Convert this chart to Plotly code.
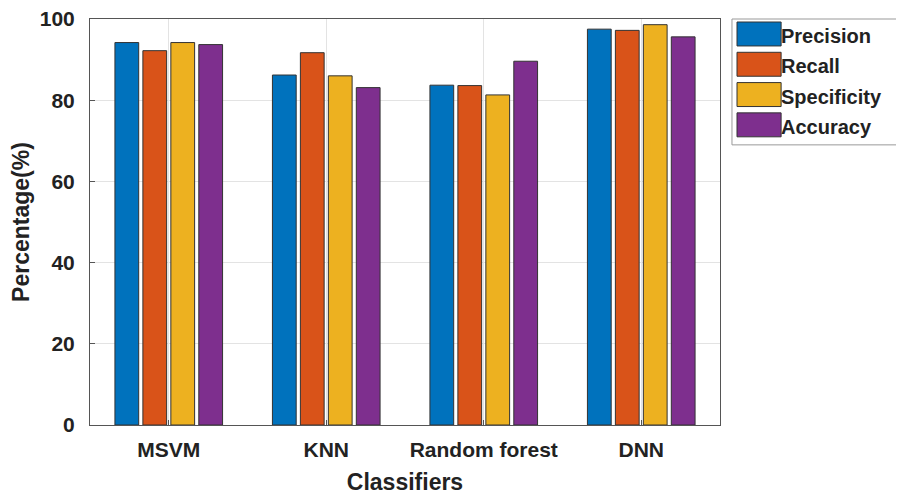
import plotly.graph_objects as go

categories = ["MSVM", "KNN", "Random forest", "DNN"]
series_names = ["Precision", "Recall", "Specificity", "Accuracy"]
precision = [94.2, 86.2, 83.7, 97.5]
recall = [92.2, 91.7, 83.6, 97.2]
specificity = [94.2, 86.0, 81.3, 98.6]
accuracy = [93.7, 83.1, 89.6, 95.6]
colors = ["#0072BD", "#D95319", "#EDB120", "#7E2F8E"]
y_ticks = [0, 20, 40, 60, 80, 100]

values = [precision, recall, specificity, accuracy]
font_family = "Liberation Sans, Arial, sans-serif"

fig = go.Figure()
for name, vals, col in zip(series_names, values, colors):
    fig.add_trace(go.Bar(
        x=categories, y=vals, name=name,
        marker=dict(color=col, line=dict(color="#333333", width=1)),
        showlegend=False,
    ))

# custom legend (large swatches like the reference)
legend_shapes = [dict(type="rect", xref="paper", yref="paper",
                      x0=1.019, x1=1.286, y0=0.69, y1=1.0,
                      line=dict(color="#999999", width=1), fillcolor="white")]
annotations = []
row_h = 0.0746
sw_h = 0.059
for i, (name, col) in enumerate(zip(series_names, colors)):
    ytop = 0.9926 - i * row_h
    legend_shapes.append(dict(type="rect", xref="paper", yref="paper",
                              x0=1.027, x1=1.097, y0=ytop - sw_h, y1=ytop,
                              line=dict(color="#333333", width=1), fillcolor=col))
    annotations.append(dict(xref="paper", yref="paper", x=1.094, y=ytop - sw_h / 2 - 0.005,
                            text="<b>" + name + "</b>", showarrow=False,
                            xanchor="left", yanchor="middle",
                            font=dict(size=20, color="#222222", family=font_family)))

fig.update_layout(
    width=904, height=494,
    margin=dict(l=82, r=192, t=11, b=77),
    paper_bgcolor="white", plot_bgcolor="white",
    barmode="group", bargap=0.29, bargroupgap=0.15,
    font=dict(family=font_family, size=16, color="#222222"),
    shapes=legend_shapes, annotations=annotations,
    xaxis=dict(
        automargin=False,
        title=dict(text="<b>Classifiers</b>", font=dict(size=23), standoff=13),
        tickfont=dict(size=21),
        ticktext=["<b>" + c + "</b>" for c in categories], tickvals=categories,
        ticklabelstandoff=6,
        ticklabeloverflow="allow",
        showline=True, linecolor="#555555", mirror=True,
        showgrid=True, gridcolor="#e3e3e3",
        ticks="inside", ticklen=5, tickcolor="#555555",
    ),
    yaxis=dict(
        automargin=False,
        title=dict(text="<b>Percentage(%)</b>", font=dict(size=23), standoff=4),
        range=[0, 100], tickvals=y_ticks,
        ticktext=["<b>" + str(t) + "</b>" for t in y_ticks],
        tickfont=dict(size=21),
        ticklabelstandoff=10,
        ticklabeloverflow="allow",
        showline=True, linecolor="#555555", mirror=True,
        showgrid=True, gridcolor="#e3e3e3",
        ticks="inside", ticklen=5, tickcolor="#555555",
        zeroline=False,
    ),
)

fig.write_html("out.html")
